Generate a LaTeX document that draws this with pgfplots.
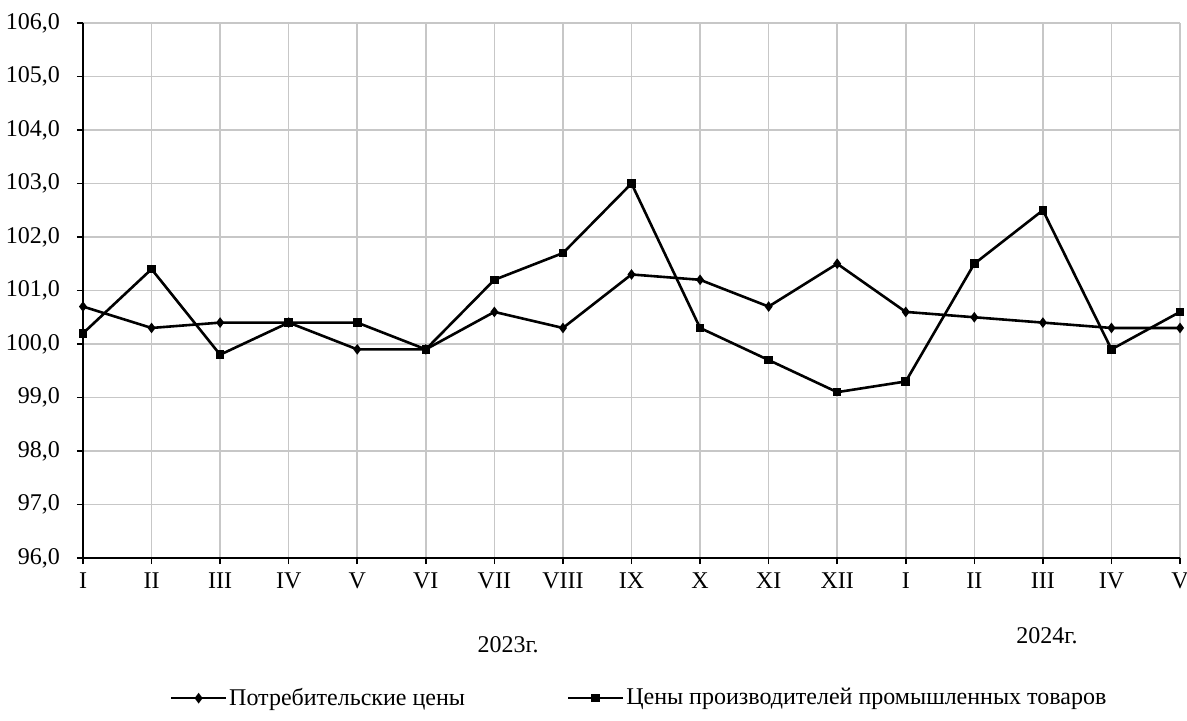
\documentclass[border=0pt]{standalone}
\usepackage{fontspec}
\setmainfont{Liberation Serif}
\usepackage{pgfplots}
\pgfplotsset{compat=1.18}
\begin{document}
\begin{tikzpicture}
\path[use as bounding box] (-41.5pt,-81pt) rectangle (552pt,279pt);
\begin{axis}[
  at={(0,0)}, anchor=south west,
  scale only axis, width=548.5pt, height=267.5pt,
  font=\fontsize{12}{14}\selectfont,
  axis lines*=left,
  axis line style={black, line width=0.8pt},
  xmin=0, xmax=16, ymin=96, ymax=106,
  xtick={0,...,16},
  xticklabels={I,II,III,IV,V,VI,VII,VIII,IX,X,XI,XII,I,II,III,IV,V},
  ytick={96,97,...,106},
  yticklabel style={xshift=-5pt, /pgf/number format/.cd, fixed, fixed zerofill, precision=1, use comma},
  xticklabel style={yshift=-1pt},
  /pgf/number format/assume math mode=true,
  tick align=outside, major tick length=3pt,
  tick style={black, line width=0.8pt},
  grid=major,
  major grid style={draw=black!22, line width=0.8pt},
  clip=false,
  legend columns=2,
  legend style={draw=none, fill=none, at={(0.507,-0.262)}, anchor=center,
    font=\fontsize{12}{14}\selectfont,
    /tikz/every even column/.append style={column sep=50pt},
    nodes={inner xsep=1pt}},
  legend image code/.code={\draw[mark repeat=2,mark phase=2,#1] plot coordinates {(0cm,0cm)(0.48cm,0cm)(0.96cm,0cm)};},
]
\addplot[black, line width=1.3pt, mark=diamond*, mark size=1.6pt, mark options={solid}] coordinates {
(0,100.7)(1,100.3)(2,100.4)(3,100.4)(4,99.9)(5,99.9)(6,100.6)(7,100.3)(8,101.3)(9,101.2)(10,100.7)(11,101.5)(12,100.6)(13,100.5)(14,100.4)(15,100.3)(16,100.3)};
\addlegendentry{Потребительские цены}
\addplot[black, line width=1.3pt, mark=square*, mark size=1.5pt, mark options={solid}] coordinates {
(0,100.2)(1,101.4)(2,99.8)(3,100.4)(4,100.4)(5,99.9)(6,101.2)(7,101.7)(8,103.0)(9,100.3)(10,99.7)(11,99.1)(12,99.3)(13,101.5)(14,102.5)(15,99.9)(16,100.6)};
\addlegendentry{Цены производителей промышленных товаров}
\node at (axis cs:6.2,96) [yshift=-43.5pt] {2023г.};
\node at (axis cs:14.06,96) [yshift=-39pt] {2024г.};
\end{axis}
\end{tikzpicture}
\end{document}
